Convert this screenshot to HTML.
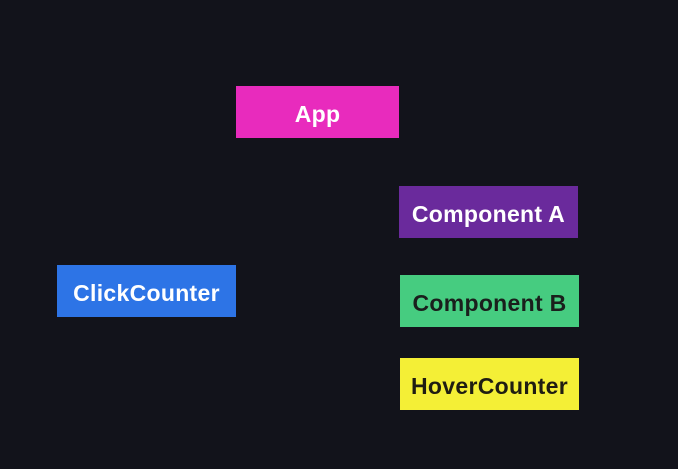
<!DOCTYPE html>
<html><head><style>
html,body{margin:0;padding:0;}
body{width:678px;height:469px;background:#12131b;position:relative;overflow:hidden;font-family:"Liberation Sans",sans-serif;}
.b{position:absolute;display:flex;align-items:center;justify-content:center;font-weight:bold;font-size:23px;letter-spacing:0.3px;box-sizing:border-box;padding-top:4px;}
</style></head><body>
<div class="b" style="left:236px;top:86px;width:163px;height:52px;background:#e82bbd;color:#fff;">App</div>
<div class="b" style="left:399px;top:186px;width:179px;height:52px;background:#6a2a9c;color:#fff;">Component A</div>
<div class="b" style="left:57px;top:265px;width:179px;height:52px;background:#2d74e6;color:#fff;">ClickCounter</div>
<div class="b" style="left:400px;top:275px;width:179px;height:52px;background:#46cc80;color:#1a1f1c;">Component B</div>
<div class="b" style="left:400px;top:358px;width:179px;height:52px;background:#f4ef36;color:#1f1d12;">HoverCounter</div>
</body></html>
